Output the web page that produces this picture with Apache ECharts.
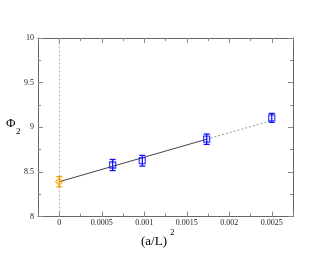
<!DOCTYPE html>
<html><head><meta charset="utf-8">
<script src="https://cdn.jsdelivr.net/npm/echarts@6/dist/echarts.min.js"></script>
<style>html,body{margin:0;padding:0;background:#fff}#c{width:330px;height:255px}</style>
</head><body><div id="c"></div>
<script>
// data
const extrapX = [0];
const extrapY = [8.39];
const extrapErr = [0.058];
const simX = [0.000628, 0.000977, 0.001734, 0.0025];
const simY = [8.577, 8.625, 8.866, 9.105];
const simErr = [0.062, 0.06, 0.058, 0.05];
const fitSolidX = [0, 0.001734];
const fitSolidY = [8.39, 8.866];
const fitDotX = [0.001734, 0.0025];
const fitDotY = [8.866, 9.075];
const xTickVals = [0, 0.0005, 0.001, 0.0015, 0.002, 0.0025];
const xTicks = ['0', '0.0005', '0.001', '0.0015', '0.002', '0.0025'];
const yTicks = ['8', '8.5', '9', '9.5', '10'];

const chart = echarts.init(document.getElementById('c'), null, {renderer: 'canvas'});
const serif = 'Liberation Serif';
const axisCol = '#666';
const tickCol = '#888';
const XMIN = -0.00025, XMAX = 0.00275;

function xMajor(pos, show) {
  return {
    type: 'value', position: pos, min: XMIN, max: XMAX,
    axisLine: {show: true, onZero: false, lineStyle: {color: axisCol, width: 1}},
    axisTick: {show: true, inside: true, length: 5, customValues: xTickVals, lineStyle: {color: tickCol}},
    splitLine: {show: false},
    axisLabel: {show: show, fontFamily: serif, fontSize: 8, color: '#222', margin: 2,
      customValues: xTickVals,
      formatter: function (v) {
        const i = xTickVals.findIndex(t => Math.abs(t - v) < 1e-9);
        return i >= 0 ? xTicks[i] : '';
      }}
  };
}
function xMinor(pos) {
  return {
    type: 'value', position: pos, min: XMIN, max: XMAX, interval: 0.00025,
    axisLine: {show: false, onZero: false},
    axisTick: {show: true, inside: true, length: 3, lineStyle: {color: tickCol}},
    splitLine: {show: false},
    axisLabel: {show: false}
  };
}
function yAxisDef(pos, show) {
  return {
    type: 'value', position: pos, min: 8, max: 10, interval: 0.5,
    axisLine: {show: true, onZero: false, lineStyle: {color: axisCol, width: 1}},
    axisTick: {show: true, inside: true, length: 5, lineStyle: {color: tickCol}},
    minorTick: {show: true, splitNumber: 2, length: 3, lineStyle: {color: tickCol}},
    splitLine: {show: false},
    axisLabel: {show: show, fontFamily: serif, fontSize: 8, color: '#222', margin: 4,
      formatter: function (v) {
        const i = Math.round((v - 8) / 0.5);
        return yTicks[i] !== undefined ? yTicks[i] : '';
      }}
  };
}

function errSeries(xs, ys, es, color) {
  return {
    type: 'custom', xAxisIndex: 0, yAxisIndex: 0, z: 3,
    data: xs.map((x, i) => [x, ys[i] - es[i], ys[i] + es[i]]),
    renderItem: function (params, api) {
      const lo = api.coord([api.value(0), api.value(1)]);
      const hi = api.coord([api.value(0), api.value(2)]);
      const w = 3;
      const st = {stroke: color, lineWidth: 1.3};
      return {type: 'group', children: [
        {type: 'line', shape: {x1: lo[0], y1: lo[1], x2: hi[0], y2: hi[1]}, style: st},
        {type: 'line', shape: {x1: lo[0] - w, y1: lo[1], x2: lo[0] + w, y2: lo[1]}, style: st},
        {type: 'line', shape: {x1: hi[0] - w, y1: hi[1], x2: hi[0] + w, y2: hi[1]}, style: st}
      ]};
    }
  };
}

chart.setOption({
  animation: false,
  backgroundColor: '#fff',
  grid: {left: 38, top: 38, right: 37, bottom: 38.5},
  xAxis: [xMajor('bottom', true), xMajor('top', false), xMinor('bottom'), xMinor('top')],
  yAxis: [yAxisDef('left', true), yAxisDef('right', false)],
  graphic: [
    {type: 'text', left: 6, top: 117, style: {text: 'Φ', font: '13px ' + serif, fill: '#000'}},
    {type: 'text', left: 16, top: 127, style: {text: '2', font: '9px ' + serif, fill: '#000'}},
    {type: 'text', left: 141, top: 235, style: {text: '(a/L)', font: '13px ' + serif, fill: '#000'}},
    {type: 'text', left: 170, top: 228, style: {text: '2', font: '9px ' + serif, fill: '#000'}}
  ],
  series: [
    {type: 'line', data: [[0, 8], [0, 10]], symbol: 'none', z: 1,
      lineStyle: {color: '#999', width: 0.8, type: [2, 2]}},
    {type: 'line', data: fitSolidX.map((x, i) => [x, fitSolidY[i]]), symbol: 'none', z: 2,
      lineStyle: {color: '#444', width: 1}},
    {type: 'line', data: fitDotX.map((x, i) => [x, fitDotY[i]]), symbol: 'none', z: 2,
      lineStyle: {color: '#999', width: 1, type: [2, 2]}},
    errSeries(extrapX, extrapY, extrapErr, '#f5a000'),
    errSeries(simX, simY, simErr, '#1010ff'),
    {type: 'scatter', data: extrapX.map((x, i) => [x, extrapY[i]]), symbol: 'diamond', symbolSize: 7, z: 4,
      itemStyle: {color: 'rgba(0,0,0,0)', borderColor: '#f5a000', borderWidth: 1.3}},
    {type: 'scatter', data: simX.map((x, i) => [x, simY[i]]), symbol: 'rect', symbolSize: 6, z: 4,
      itemStyle: {color: 'rgba(0,0,0,0)', borderColor: '#1010ff', borderWidth: 1.3}}
  ]
});
</script></body></html>
